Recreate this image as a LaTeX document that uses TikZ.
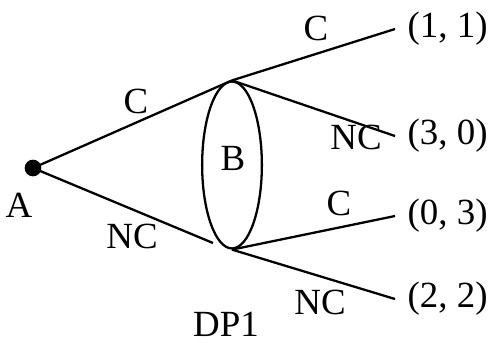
\documentclass[tikz,border=0pt]{standalone}
\usepackage{fontspec}
\setmainfont{Liberation Serif}
\usetikzlibrary{shapes.geometric}

\tikzset{
  lbl/.style={font=\fontsize{21}{25}\selectfont, inner sep=0pt},
  payoff/.style={font=\fontsize{21}{25}\selectfont, anchor=west, inner xsep=7pt, inner ysep=0pt},
  edge/.style={line width=1.3pt}
}

\begin{document}
\begin{tikzpicture}[x=0.02cm, y=-0.02cm]
    \useasboundingbox (0,0) rectangle (496,342);
    % Players
    \node[circle, fill=black, inner sep=0pt, minimum size=9.5pt] (A) at (33,168) {};
    \node[lbl] (Alab) at (19,205) {A};
    \node[ellipse, draw, line width=1.3pt, minimum width=34pt, minimum height=95pt, inner sep=0pt] (B) at (232,165) {};
    \node[lbl] (Blab) at (233,158) {B};
    \coordinate (Bin) at (213,243);
    % Payoffs
    \node[payoff] (p1) at (395,29) {(1, 1)};
    \node[payoff] (p2) at (395,136) {(3, 0)};
    \node[payoff] (p3) at (395,216) {(0, 3)};
    \node[payoff] (p4) at (395,299) {(2, 2)};
    % Branches
    \draw[edge] (A.center) -- (B.north);
    \draw[edge] (A.center) -- (Bin);
    \draw[edge] (B.north) -- (p1.west);
    \draw[edge] (B.north) -- (p2.west);
    \draw[edge] (B.south) -- (p3.west);
    \draw[edge] (B.south) -- (p4.west);
    % Moves
    \node[lbl] (c1) at (136,101) {C};
    \node[lbl] (n1) at (132,236) {NC};
    \node[lbl] (c2) at (316,28) {C};
    \node[lbl] (n2) at (356,137) {NC};
    \node[lbl] (c3) at (339,203) {C};
    \node[lbl] (n3) at (320,302) {NC};
    \node[lbl] (dp) at (226,324) {DP1};
\end{tikzpicture}
\end{document}
